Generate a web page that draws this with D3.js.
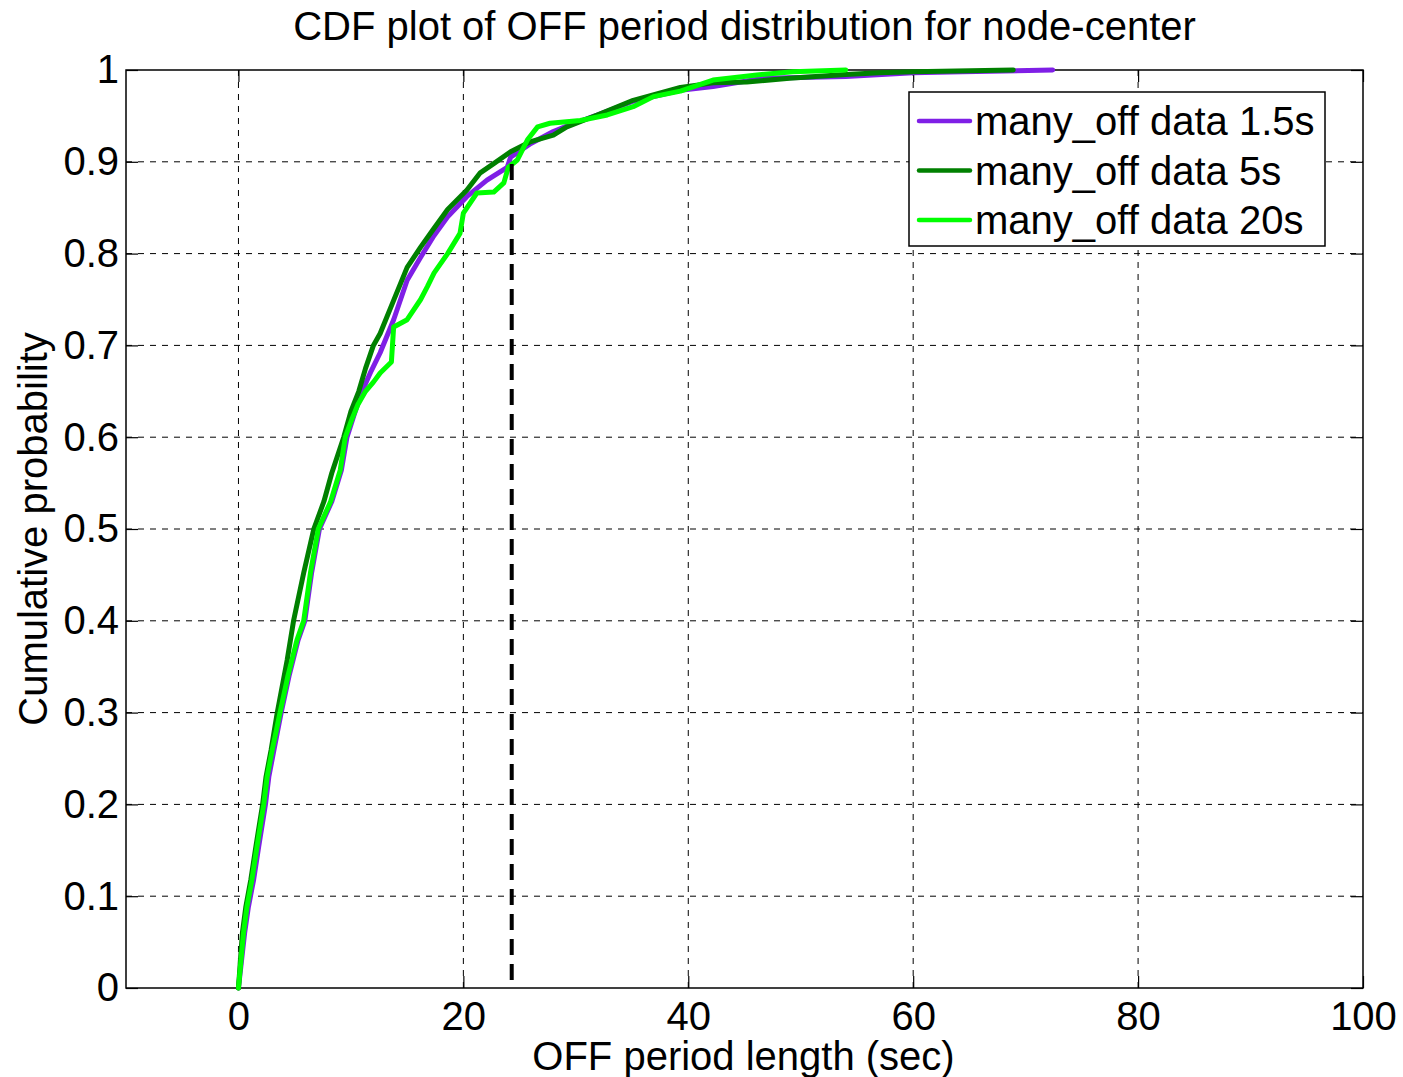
<!DOCTYPE html>
<html>
<head>
<meta charset="utf-8">
<script src="https://d3js.org/d3.v7.min.js"></script>
<style>
  body { margin: 0; background: #fff; }
  text { font-family: "Liberation Sans", Arial, Helvetica, sans-serif; fill: #000; }
</style>
</head>
<body>
<div id="chart"></div>
<script>
// series
var seriesNames = ["many_off data 1.5s", "many_off data 5s", "many_off data 20s"];
var seriesColors = ["#7f1fe6", "#008000", "#00ff00"];

var x15 = [0, 0.55, 0.88, 1.35, 1.8, 2.4, 2.7, 3.15, 3.8, 4.5, 5.3, 5.9, 6.5, 7.2, 8.3, 9.15, 9.65, 10.3, 11.0, 11.8, 12.6, 13.8, 15.0, 16.2, 17.3, 18.6, 20.3, 22.1, 23.9, 24.2, 26.0, 28.0, 29.2, 31.9, 35.1, 39.3, 42.2, 46.7, 54, 60, 64.4, 72.4];
var y15 = [0, 0.06, 0.088, 0.118, 0.154, 0.2, 0.23, 0.259, 0.3, 0.34, 0.379, 0.4, 0.452, 0.5, 0.53, 0.564, 0.6, 0.625, 0.65, 0.672, 0.692, 0.728, 0.771, 0.796, 0.818, 0.84, 0.862, 0.88, 0.894, 0.905, 0.92, 0.933, 0.939, 0.951, 0.966, 0.978, 0.982, 0.991, 0.993, 0.997, 0.998, 1.0];

var x5 = [0, 0.35, 0.65, 1.1, 1.55, 2.15, 2.45, 2.9, 3.45, 4.33, 4.9, 5.8, 6.7, 7.6, 8.3, 9.36, 10.0, 10.7, 11.3, 12.0, 12.6, 13.8, 15.0, 16.2, 17.3, 18.6, 20.3, 21.5, 22.7, 24.2, 26.0, 28.0, 29.2, 31.9, 35.1, 39.3, 42.2, 45.2, 49, 54, 57, 60, 68.9];
var y5 = [0, 0.06, 0.088, 0.118, 0.154, 0.2, 0.23, 0.259, 0.3, 0.357, 0.4, 0.452, 0.5, 0.53, 0.561, 0.6, 0.628, 0.65, 0.675, 0.7, 0.713, 0.749, 0.785, 0.807, 0.826, 0.848, 0.869, 0.888, 0.898, 0.911, 0.922, 0.929, 0.938, 0.951, 0.967, 0.981, 0.986, 0.987, 0.991, 0.995, 0.997, 0.998, 1.0];

var x20 = [0, 0.45, 0.75, 1.2, 1.65, 2.25, 2.55, 3.0, 3.7, 4.4, 5.2, 5.8, 6.4, 7.1, 8.2, 9.05, 9.5, 10.1, 10.6, 11.3, 12.0, 12.6, 13.6, 13.8, 15.0, 16.2, 16.8, 17.4, 18.6, 19.7, 20.0, 21.2, 22.7, 23.6, 24.0, 24.8, 25.7, 26.6, 27.7, 30.4, 32.8, 35.1, 36.9, 39.3, 42.2, 46.1, 49.3, 54];
var y20 = [0, 0.06, 0.088, 0.118, 0.154, 0.2, 0.23, 0.259, 0.3, 0.34, 0.379, 0.4, 0.452, 0.5, 0.53, 0.564, 0.6, 0.62, 0.635, 0.65, 0.66, 0.67, 0.682, 0.72, 0.728, 0.75, 0.764, 0.779, 0.8, 0.822, 0.844, 0.866, 0.867, 0.877, 0.894, 0.902, 0.924, 0.938, 0.942, 0.945, 0.951, 0.96, 0.971, 0.977, 0.989, 0.9946, 0.998, 1.0];

var cutoffX = 24.3;
var cutoffY = 0.9;

var xTicks = [0, 20, 40, 60, 80, 100];
var yTicks = [0, 0.1, 0.2, 0.3, 0.4, 0.5, 0.6, 0.7, 0.8, 0.9, 1];

var svgWidth = 1403;
var svgHeight = 1077;
var margin = { top: 70, right: 40, bottom: 89, left: 126 };
var chartWidth = svgWidth - margin.left - margin.right;
var chartHeight = svgHeight - margin.top - margin.bottom;
var fontSize = "40px";

var svg = d3.select("#chart")
            .append("svg")
            .attr("width", svgWidth)
            .attr("height", svgHeight);

var chartGroup = svg.append("g")
                    .attr("transform", `translate(${margin.left}, ${margin.top})`);

var xScale = d3.scaleLinear().domain([-10, 100]).range([0, chartWidth]);
var yScale = d3.scaleLinear().domain([0, 1]).range([chartHeight, 0]);

// grid
chartGroup.selectAll(".vgrid")
          .data(xTicks.filter(d => d > -10 && d < 100))
          .enter()
          .append("line")
          .attr("x1", d => xScale(d)).attr("x2", d => xScale(d))
          .attr("y1", 0).attr("y2", chartHeight)
          .attr("stroke", "#000").attr("stroke-width", 1)
          .attr("stroke-dasharray", "6,6");

chartGroup.selectAll(".hgrid")
          .data(yTicks.filter(d => d > 0 && d < 1))
          .enter()
          .append("line")
          .attr("x1", 0).attr("x2", chartWidth)
          .attr("y1", d => yScale(d)).attr("y2", d => yScale(d))
          .attr("stroke", "#000").attr("stroke-width", 1)
          .attr("stroke-dasharray", "6,6");

// axes, ticks inward on all sides
var xAxis = d3.axisBottom(xScale).tickValues(xTicks).tickSize(-12).tickPadding(14).tickFormat(d3.format("d"));
var yAxis = d3.axisLeft(yScale).tickValues(yTicks).tickSize(-12).tickPadding(7).tickFormat(d => d === 0 || d === 1 ? d : d3.format(".1f")(d));
var xTop = d3.axisTop(xScale).tickValues(xTicks).tickSize(-12).tickFormat("");
var yRight = d3.axisRight(yScale).tickValues(yTicks).tickSize(-12).tickFormat("");

var axes = [
  chartGroup.append("g").attr("transform", `translate(0, ${chartHeight})`).call(xAxis),
  chartGroup.append("g").call(yAxis),
  chartGroup.append("g").call(xTop),
  chartGroup.append("g").attr("transform", `translate(${chartWidth}, 0)`).call(yRight)
];
axes.forEach(function(g) {
  g.select(".domain").remove();
  g.selectAll("line").attr("stroke", "#000").attr("stroke-width", 1.2);
  g.selectAll("text").style("font-size", fontSize).attr("fill", "#000");
});

chartGroup.append("rect")
          .attr("width", chartWidth).attr("height", chartHeight)
          .attr("fill", "none").attr("stroke", "#000").attr("stroke-width", 1.5);

// curves
var seriesX = [x15, x5, x20];
var seriesY = [y15, y5, y20];
var line = d3.line().x(d => xScale(d[0])).y(d => yScale(d[1]));

seriesX.forEach(function(xs, i) {
  var pts = xs.map((v, j) => [v, seriesY[i][j]]);
  chartGroup.append("path")
            .datum(pts)
            .attr("d", line)
            .attr("fill", "none")
            .attr("stroke", seriesColors[i])
            .attr("stroke-width", 5)
            .attr("stroke-linejoin", "round")
            .attr("stroke-linecap", "round");
});

// cutoff marker
chartGroup.append("line")
          .attr("x1", xScale(cutoffX)).attr("x2", xScale(cutoffX))
          .attr("y1", yScale(0) - 8).attr("y2", yScale(cutoffY))
          .attr("stroke", "#000").attr("stroke-width", 4)
          .attr("stroke-dasharray", "16,9");

// legend
var legend = chartGroup.append("g")
                       .attr("transform", `translate(${909 - margin.left}, 22)`);
legend.append("rect")
      .attr("width", 416).attr("height", 154)
      .attr("fill", "#fff").attr("stroke", "#000").attr("stroke-width", 1.5);
seriesNames.forEach(function(name, i) {
  var ly = 29 + i * 49.5;
  legend.append("line")
        .attr("x1", 10).attr("x2", 61)
        .attr("y1", ly).attr("y2", ly)
        .attr("stroke", seriesColors[i]).attr("stroke-width", 4.5)
        .attr("stroke-linecap", "round");
  legend.append("text")
        .attr("x", 66).attr("y", ly + 14)
        .style("font-size", fontSize)
        .text(name);
});

// labels
svg.append("text")
   .attr("x", margin.left + chartWidth / 2).attr("y", 40)
   .style("text-anchor", "middle").style("font-size", fontSize)
   .text("CDF plot of OFF period distribution for node-center");

svg.append("text")
   .attr("x", margin.left + chartWidth / 2 - 1).attr("y", 1070)
   .style("text-anchor", "middle").style("font-size", fontSize)
   .text("OFF period length (sec)");

svg.append("text")
   .attr("transform", `translate(47, ${margin.top + chartHeight / 2}) rotate(-90)`)
   .style("text-anchor", "middle").style("font-size", fontSize)
   .text("Cumulative probability");
</script>
</body>
</html>
